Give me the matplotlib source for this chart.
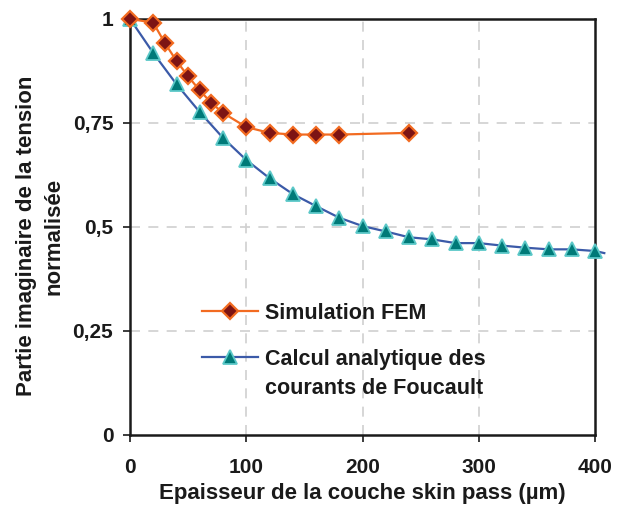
import numpy as np
import matplotlib.pyplot as plt

# data
fem_x = [0, 20, 30, 40, 50, 60, 70, 80, 100, 120, 140, 160, 180, 240]
fem_y = [1.0, 0.991, 0.942, 0.899, 0.862, 0.828, 0.798, 0.774, 0.740, 0.726, 0.722, 0.722, 0.722, 0.726]

ana_x = [0, 20, 40, 60, 80, 100, 120, 140, 160, 180, 200, 220, 240, 260, 280, 300, 320, 340, 360, 380, 400, 408]
ana_y = [1.0, 0.918, 0.843, 0.776, 0.714, 0.661, 0.617, 0.579, 0.550, 0.522, 0.502, 0.489, 0.475, 0.470,
         0.461, 0.461, 0.455, 0.450, 0.446, 0.446, 0.442, 0.437]

yticks = [0, 0.25, 0.5, 0.75, 1]
ytick_labels = ['0', '0,25', '0,5', '0,75', '1']
xticks = [0, 100, 200, 300, 400]

plt.rcParams['font.family'] = ['Liberation Sans', 'DejaVu Sans']
plt.rcParams['font.weight'] = 'bold'
ink = '#1a1a1a'

fig = plt.figure(figsize=(6.25, 5.11), dpi=100)
ax = fig.add_axes([0.208, 0.149, 0.744, 0.814])

ax.plot(fem_x, fem_y, color='#f26b21', lw=1.6, marker='D', ms=8.5,
        mfc='#7d1414', mec='#f26b21', mew=1.6, clip_on=False, zorder=4,
        label='Simulation FEM')
ax.plot(ana_x, ana_y, color='#3b5aa8', lw=1.6, marker='^', ms=10,
        mfc='#007a78', mec='#5cc8c8', mew=1.3, clip_on=False, zorder=3,
        markevery=list(range(len(ana_x) - 1)),
        label='Calcul analytique des')

ax.set_xlim(0, 400)
ax.set_ylim(0, 1)
ax.set_xticks(xticks)
ax.set_yticks(yticks)
ax.set_yticklabels(ytick_labels)
for v in [100, 200, 300]:
    ax.axvline(v, color='#d0d0d0', lw=1.2, ls=(0, (6, 5)), zorder=1)
for v in [0.25, 0.5, 0.75]:
    ax.axhline(v, color='#d0d0d0', lw=1.2, ls=(0, (6, 5)), zorder=1)

for s in ax.spines.values():
    s.set_linewidth(1.8)
    s.set_color(ink)
ax.tick_params(direction='out', length=5, width=1.2, labelsize=15, pad=7, colors=ink)
ax.tick_params(axis='x', pad=12)

ax.set_xlabel('Epaisseur de la couche skin pass (µm)', fontsize=16, fontweight='bold', labelpad=4,
              color=ink)
ax.set_ylabel('Partie imaginaire de la tension\nnormalisée', fontsize=16, fontweight='bold',
              color=ink, linespacing=1.45)
ax.yaxis.set_label_coords(-0.14, 0.478)

leg = ax.legend(loc='upper left', bbox_to_anchor=(0.113, 0.364), frameon=False, fontsize=15.5,
                handlelength=2.6, labelspacing=1.15, handletextpad=0.33, labelcolor=ink)

# second line of the analytic label sits under the first one, handle stays on line one
fig.canvas.draw()
t2 = leg.get_texts()[1]
bb = t2.get_window_extent().transformed(ax.transAxes.inverted())
ax.text(bb.x0, bb.y0 - 0.02, 'courants de Foucault', transform=ax.transAxes,
        fontsize=15.5, fontweight='bold', color=ink, ha='left', va='top')

fig.savefig('out.png', dpi=100)
